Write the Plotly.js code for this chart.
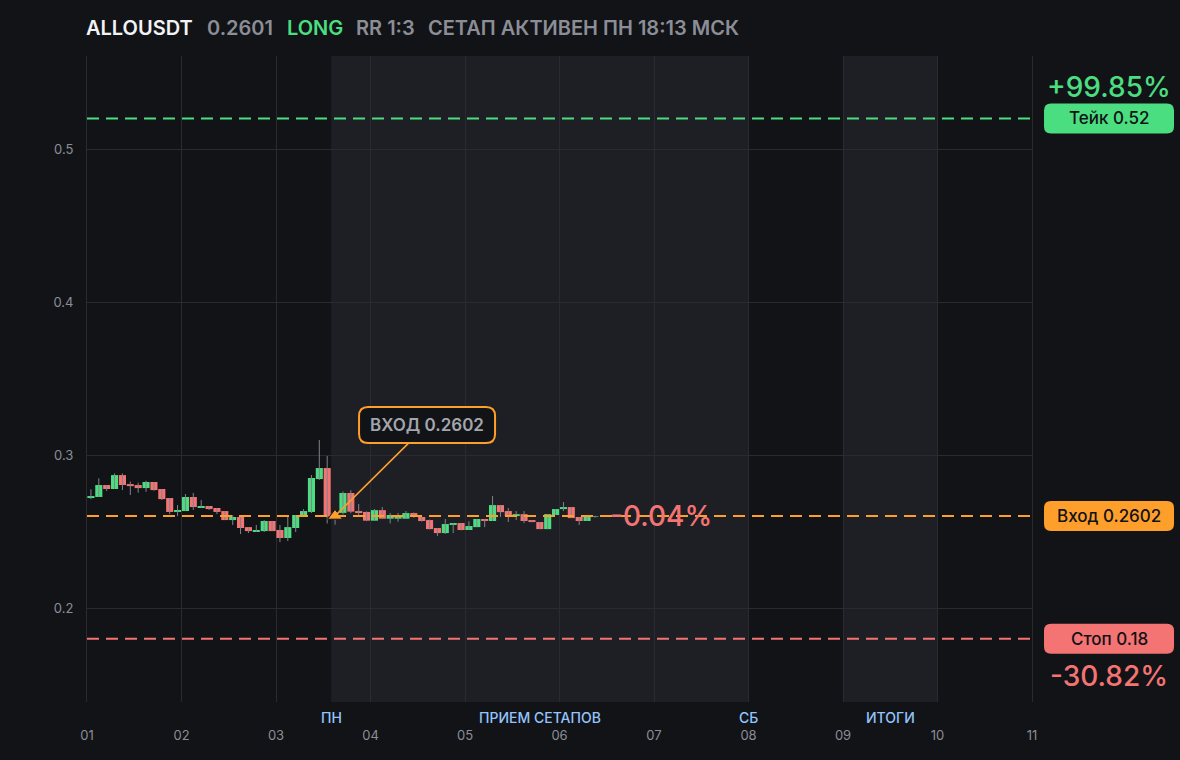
<!DOCTYPE html>
<html>
<head>
<meta charset="utf-8">
<script src="https://cdn.plot.ly/plotly-3.0.1.min.js"></script>
<style>html,body{margin:0;padding:0;background:#121317;}#chart{width:1180px;height:760px;}</style>
</head>
<body>
<div id="chart"></div>
<script>
// ---------- data ----------
const symbol = "ALLOUSDT";
const lastPrice = 0.2601;
const side = "LONG";
const rrText = "RR 1:3";
const statusText = "СЕТАП АКТИВЕН ПН 18:13 МСК";

const entryPrice = 0.2602;
const takePrice = 0.52;
const stopPrice = 0.18;
const entryTime = "2025-11-03 15:00";

const firstCandleCentre = "2025-11-01T01:00:00Z"; // 2h candles, centre of first bar
const candleHours = 2;

const candleOpen = [0.2719,0.2726,0.2804,0.2778,0.2869,0.2810,0.2804,0.2784,0.2824,0.2778,
  0.2719,0.2628,0.2634,0.2726,0.2654,0.2667,0.2654,0.2634,0.2575,0.2595,
  0.2529,0.2497,0.2503,0.2569,0.2510,0.2458,0.2523,0.2595,0.2628,0.2843,
  0.2915,0.2598,0.2622,0.2752,0.2634,0.2628,0.2571,0.2640,0.2584,0.2584,
  0.2584,0.2621,0.2595,0.2575,0.2523,0.2490,0.2543,0.2556,0.2510,0.2529,
  0.2582,0.2569,0.2673,0.2634,0.2601,0.2614,0.2575,0.2562,0.2516,0.2608,
  0.2647,0.2660,0.2595,0.2569,0.2597];
const candleHigh = [0.2776,0.2848,0.2804,0.2880,0.2880,0.2826,0.2819,0.2832,0.2824,0.2778,
  0.2719,0.2673,0.2745,0.2752,0.2706,0.2667,0.2654,0.2634,0.2608,0.2601,
  0.2529,0.2543,0.2575,0.2569,0.2543,0.2601,0.2608,0.2647,0.2869,0.3098,
  0.2994,0.2630,0.2762,0.2770,0.2680,0.2632,0.2647,0.2660,0.2621,0.2621,
  0.2634,0.2625,0.2597,0.2578,0.2523,0.2582,0.2556,0.2556,0.2567,0.2582,
  0.2582,0.2732,0.2673,0.2654,0.2634,0.2634,0.2575,0.2562,0.2614,0.2647,
  0.2693,0.2660,0.2595,0.2608,0.2604];
const candleLow = [0.2712,0.2726,0.2765,0.2778,0.2771,0.2739,0.2754,0.2760,0.2767,0.2706,
  0.2614,0.2601,0.2634,0.2641,0.2654,0.2641,0.2614,0.2575,0.2543,0.2484,
  0.2490,0.2497,0.2497,0.2503,0.2431,0.2438,0.2497,0.2595,0.2621,0.2837,
  0.2553,0.2545,0.2612,0.2620,0.2608,0.2568,0.2571,0.2584,0.2553,0.2564,
  0.2584,0.2590,0.2565,0.2514,0.2471,0.2484,0.2490,0.2508,0.2510,0.2529,
  0.2529,0.2569,0.2595,0.2562,0.2575,0.2556,0.2562,0.2516,0.2516,0.2608,
  0.2634,0.2588,0.2543,0.2569,0.2590];
const candleClose = [0.2732,0.2804,0.2778,0.2869,0.2804,0.2797,0.2784,0.2824,0.2771,0.2712,
  0.2628,0.2641,0.2726,0.2660,0.2667,0.2647,0.2628,0.2575,0.2595,0.2523,
  0.2503,0.2510,0.2569,0.2503,0.2458,0.2529,0.2608,0.2634,0.2850,0.2915,
  0.2598,0.2622,0.2752,0.2630,0.2621,0.2571,0.2640,0.2584,0.2608,0.2601,
  0.2621,0.2595,0.2569,0.2516,0.2490,0.2549,0.2556,0.2510,0.2536,0.2582,
  0.2569,0.2673,0.2627,0.2601,0.2614,0.2569,0.2562,0.2516,0.2614,0.2647,
  0.2660,0.2588,0.2569,0.2608,0.2601];

const dayTicks = ["01","02","03","04","05","06","07","08","09","10","11"];
const zoneLabels = ["ПН","ПРИЕМ СЕТАПОВ","СБ","ИТОГИ"];

// ---------- style ----------
const BG = "#121317", SHADE = "#1e1f24", GRID = "#2a2b31";
const GREEN = "#4ade80", RED = "#f47373", ORANGE = "#ff9f2b";
const GRAY = "#8b8e96", BLUE = "#93c5fd";
const FONT = "Inter, 'Noto Sans', sans-serif";

function fmt(d){
  const p = n => String(n).padStart(2,"0");
  return d.getUTCFullYear()+"-"+p(d.getUTCMonth()+1)+"-"+p(d.getUTCDate())+" "+p(d.getUTCHours())+":"+p(d.getUTCMinutes());
}
const t0 = Date.parse(firstCandleCentre);
const candleMs = candleHours*3600000;
const candleTime = candleOpen.map((_, i) => fmt(new Date(t0 + i*candleMs)));

const wickX = [], wickY = [];
candleTime.forEach((t,i) => { wickX.push(t,t,null); wickY.push(candleLow[i], candleHigh[i], null); });
const bodyBase = candleOpen.map((o,i) => Math.min(o, candleClose[i]));
const bodyLen = candleOpen.map((o,i) => Math.max(Math.abs(candleClose[i]-o), 0.00035));
const bodyColor = candleOpen.map((o,i) => candleClose[i] >= o ? GREEN : RED);

const pct = p => { const v = (p-entryPrice)/entryPrice*100; return (v>=0?"+":"-")+Math.abs(v).toFixed(2)+"%"; };

function rr(cx, cy, w, h, r){
  const x0=cx-w/2, x1=cx+w/2, y0=cy-h/2, y1=cy+h/2;
  return `M${x0+r},${y0} L${x1-r},${y0} Q${x1},${y0} ${x1},${y0+r} L${x1},${y1-r} Q${x1},${y1} ${x1-r},${y1} L${x0+r},${y1} Q${x0},${y1} ${x0},${y1-r} L${x0},${y0+r} Q${x0},${y0} ${x0+r},${y0} Z`;
}

const traces = [
  {type:"scatter", mode:"lines", x:wickX, y:wickY, line:{color:"#80838b", width:1}, hoverinfo:"skip", showlegend:false},
  {type:"bar", x:candleTime, base:bodyBase, y:bodyLen, width:candleMs*0.9,
   marker:{color:bodyColor, line:{width:0}}, hoverinfo:"skip", showlegend:false},
  {type:"scatter", mode:"markers", x:[entryTime], y:[entryPrice],
   marker:{symbol:"triangle-up", size:13, color:ORANGE, line:{color:BG, width:1}}, hoverinfo:"skip", showlegend:false}
];

const labelX = 1.0815;
const levels = [
  {p:takePrice, name:"Тейк", color:GREEN, pctShift:31},
  {p:entryPrice, name:"Вход", color:ORANGE, pctShift:null},
  {p:stopPrice, name:"Стоп", color:RED, pctShift:-37}
];

const shapes = [
  {type:"rect", xref:"x", yref:"paper", x0:"2025-11-03 14:00", x1:"2025-11-08 00:00", y0:0, y1:1, fillcolor:SHADE, line:{width:0}, layer:"below"},
  {type:"rect", xref:"x", yref:"paper", x0:"2025-11-09 00:00", x1:"2025-11-10 00:00", y0:0, y1:1, fillcolor:SHADE, line:{width:0}, layer:"below"}
];
const annotations = [];
levels.forEach(l => {
  shapes.push({type:"line", xref:"paper", yref:"y", x0:0, x1:1, y0:l.p, y1:l.p, line:{color:l.color, width:2, dash:"12px,7px"}, layer:"above"});
  shapes.push({type:"path", xref:"paper", yref:"y", xsizemode:"pixel", ysizemode:"pixel", xanchor:labelX, yanchor:l.p,
    path:rr(0,0,130,30,7), fillcolor:l.color, line:{width:0}, layer:"above"});
  annotations.push({xref:"paper", yref:"y", x:labelX, y:l.p, text:l.name+" "+l.p, showarrow:false,
    font:{family:FONT, size:17, color:"#111216", weight:500}, xanchor:"center", yanchor:"middle"});
  if(l.pctShift !== null){
    annotations.push({xref:"paper", yref:"y", x:labelX, y:l.p, yshift:l.pctShift, text:pct(l.p), showarrow:false,
      font:{family:FONT, size:28, color:l.color, weight:500}, xanchor:"center", yanchor:"middle"});
  }
});

// entry callout box
shapes.push({type:"path", xref:"x", yref:"y", xsizemode:"pixel", ysizemode:"pixel", xanchor:entryTime, yanchor:entryPrice,
  path:rr(92,91,136,36,9), fillcolor:BG, line:{color:ORANGE, width:2}, layer:"above"});
annotations.push({xref:"x", yref:"y", x:entryTime, y:entryPrice, ax:92, ay:-91, text:"ВХОД "+entryPrice,
  showarrow:true, arrowhead:0, arrowwidth:1.6, arrowcolor:ORANGE, width:134, height:34, bgcolor:"rgba(0,0,0,0)",
  font:{family:FONT, size:17, color:"#a3a6ad", weight:600}});

// current change
annotations.push({xref:"x", yref:"y", x:"2025-11-06 13:00", y:entryPrice, xshift:-3, text:pct(lastPrice), showarrow:false,
  xanchor:"left", yanchor:"middle", font:{family:FONT, size:28, color:RED, weight:500}});

// header
const header = [
  {t:symbol, c:"#f2f3f5", px:87},
  {t:String(lastPrice), c:GRAY, px:208},
  {t:side, c:GREEN, px:288},
  {t:rrText, c:GRAY, px:357},
  {t:statusText, c:GRAY, px:429}
];
header.forEach(h => annotations.push({xref:"paper", yref:"paper", x:(h.px-87)/945, xshift:-3, y:1, yshift:28, text:h.t, showarrow:false,
  xanchor:"left", yanchor:"middle", font:{family:FONT, size:20, color:h.c, weight:600}}));

// zone labels
const zoneX = ["2025-11-03 14:00", "2025-11-05 19:00", "2025-11-08 00:00", "2025-11-09 12:00"];
zoneLabels.forEach((z,i) => annotations.push({xref:"x", yref:"paper", x:zoneX[i], y:0, yshift:-15, text:z, showarrow:false,
  xanchor:"center", yanchor:"middle", font:{family:FONT, size:14, color:BLUE, weight:500}}));

const layout = {
  width:1180, height:760,
  paper_bgcolor:BG, plot_bgcolor:BG,
  margin:{l:87, r:148, t:56, b:58},
  showlegend:false,
  barmode:"overlay",
  font:{family:FONT, color:GRAY, size:13},
  xaxis:{type:"date", range:["2025-11-01 00:00","2025-11-11 00:00"],
    tickmode:"array", tickvals:dayTicks.map(d=>"2025-11-"+d+" 00:00"), ticktext:dayTicks,
    showgrid:true, gridcolor:GRID, gridwidth:1, zeroline:false, showline:false, ticks:"",
    ticklabelstandoff:24, tickfont:{family:FONT, size:13, color:GRAY}, fixedrange:true},
  yaxis:{range:[0.1386,0.5608], tickmode:"array", tickvals:[0.2,0.3,0.4,0.5], ticktext:["0.2","0.3","0.4","0.5"],
    showgrid:true, gridcolor:GRID, gridwidth:1, zeroline:false, showline:true, mirror:true, linecolor:GRID, linewidth:1,
    ticks:"", ticklabelstandoff:10, tickfont:{family:FONT, size:13, color:GRAY}, fixedrange:true},
  shapes:shapes,
  annotations:annotations,
  hovermode:false
};

Plotly.newPlot("chart", traces, layout, {displayModeBar:false, staticPlot:true});
</script>
</body>
</html>
